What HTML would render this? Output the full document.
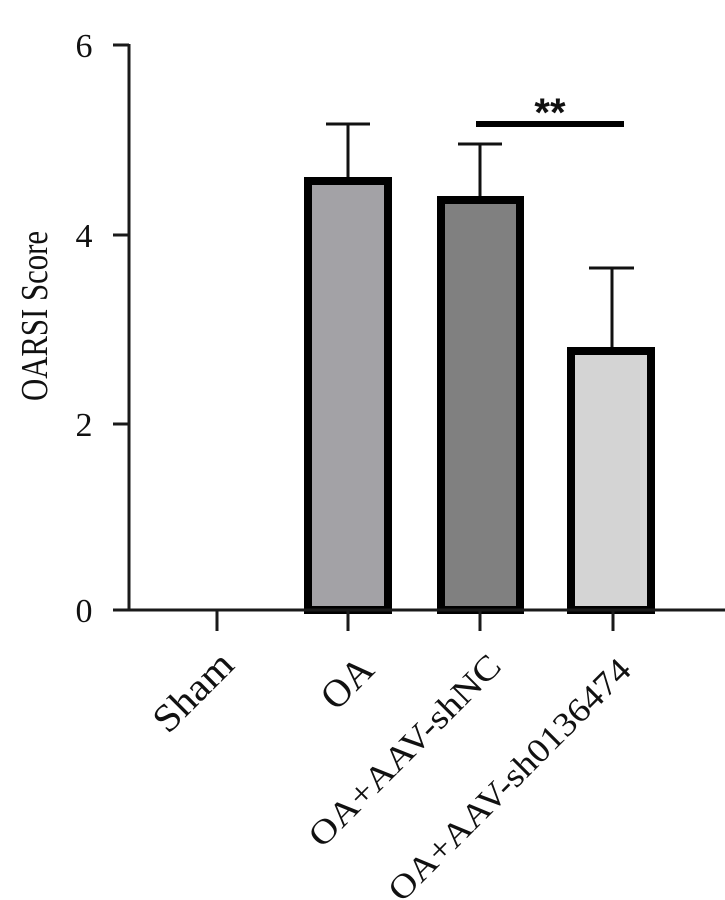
<!DOCTYPE html>
<html><head><meta charset="utf-8"><style>
html,body{margin:0;padding:0;background:#fff;}
svg{display:block;}
text{font-family:"Liberation Serif",serif;fill:#111;}
</style></head><body>
<svg width="725" height="900" viewBox="0 0 725 900" xmlns="http://www.w3.org/2000/svg">
<rect x="308" y="181" width="80" height="429" fill="#a3a2a6" stroke="#000" stroke-width="8"/>
<rect x="441" y="200" width="79" height="410" fill="#808080" stroke="#000" stroke-width="8"/>
<rect x="571" y="351" width="80" height="259" fill="#d4d4d4" stroke="#000" stroke-width="8"/>
<g stroke="#111" stroke-width="3" fill="none">
<line x1="348" y1="177" x2="348" y2="124"/><line x1="326" y1="124" x2="370" y2="124"/>
<line x1="480" y1="196" x2="480" y2="144"/><line x1="458" y1="144" x2="502" y2="144"/>
<line x1="612" y1="347" x2="612" y2="268"/><line x1="589" y1="268" x2="634" y2="268"/>
</g>
<rect x="476" y="121" width="148" height="6" fill="#000"/>
<text x="550" y="126" font-weight="bold" font-size="40" text-anchor="middle" style="font-family:'Liberation Sans',sans-serif">**</text>
<g stroke="#1a1a1a" stroke-width="3" fill="none">
<line x1="129" y1="44" x2="129" y2="611"/>
<line x1="127" y1="610" x2="725" y2="610"/>
<line x1="113" y1="45" x2="129" y2="45"/>
<line x1="113" y1="235" x2="129" y2="235"/>
<line x1="113" y1="424" x2="129" y2="424"/>
<line x1="113" y1="610" x2="129" y2="610"/>
<line x1="217" y1="610" x2="217" y2="631"/>
<line x1="348" y1="610" x2="348" y2="631"/>
<line x1="480" y1="610" x2="480" y2="631"/>
<line x1="613" y1="610" x2="613" y2="631"/>
</g>
<g font-size="34" text-anchor="middle">
<text x="84" y="57">6</text>
<text x="84" y="247">4</text>
<text x="84" y="436">2</text>
<text x="84" y="622">0</text>
</g>
<text transform="translate(47,316) rotate(-90)" font-size="38" text-anchor="middle" textLength="170" lengthAdjust="spacingAndGlyphs">OARSI Score</text>
<g text-anchor="end">
<text transform="translate(236,667) rotate(-45)" font-size="39" textLength="96" lengthAdjust="spacingAndGlyphs">Sham</text>
<text transform="translate(376,672) rotate(-45)" font-size="39">OA</text>
<text transform="translate(503,668) rotate(-45)" font-size="34" textLength="256" lengthAdjust="spacingAndGlyphs">OA+AAV-shNC</text>
<text transform="translate(633,672) rotate(-45)" font-size="34" textLength="327" lengthAdjust="spacingAndGlyphs">OA+AAV-sh0136474</text>
</g>
</svg>
</body></html>
